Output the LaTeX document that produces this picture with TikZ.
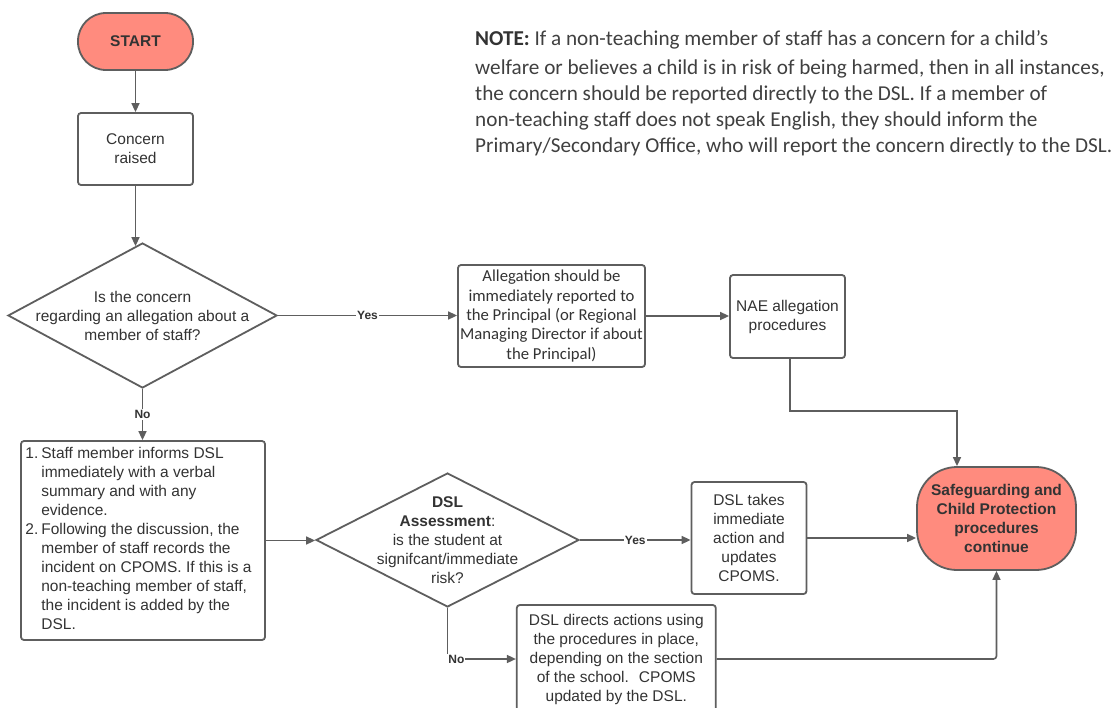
\documentclass[tikz,border=0pt]{standalone}
\usepackage{fontspec}
\setmainfont{Liberation Sans}
\newfontfamily\notefont{Carlito}
\usetikzlibrary{arrows.meta,shapes.geometric}
\definecolor{linec}{HTML}{5E5E5E}
\definecolor{txt}{HTML}{333333}
\definecolor{notec}{HTML}{404040}
\definecolor{salmon}{HTML}{FF8B7E}
\begin{document}
\begin{tikzpicture}[x=1pt,y=-1pt,
  line/.style={draw=linec, line width=1.6pt},
  arr/.style={line, -{Triangle[length=9pt,width=8pt]}},
  box/.style={draw=linec, line width=1.8pt, rounded corners=3pt, fill=white, inner sep=3pt, align=center, text=txt, font=\fontsize{15.5}{19}\selectfont},
  term/.style={box, fill=salmon, font=\bfseries\fontsize{15.5}{19}\selectfont},
  dia/.style={diamond, draw=linec, line width=1.8pt, fill=white, inner sep=0pt},
  diatext/.style={text=txt, align=center, inner sep=0pt, font=\fontsize{15.5}{19}\selectfont},
  lbl/.style={fill=white, inner sep=1pt, text=txt, font=\bfseries\fontsize{12}{14}\selectfont},
]
\fill[white] (0,0) rectangle (1111,707);
\useasboundingbox (0,0) rectangle (1111,707);

\node[anchor=north west, align=left, text=notec, inner sep=0pt,
      font=\notefont\fontsize{21.2}{26}\selectfont] (note) at (475,30)
  {{\bfseries\color{txt}NOTE:} If a non-teaching member of staff has a concern for a child’s\\[3pt]
   welfare or believes a child is in risk of being harmed, then in all instances,\\
   the concern should be reported directly to the DSL. If a member of\\
   non-teaching staff does not speak English, they should inform the\\
   Primary/Secondary Office, who will report the concern directly to the DSL.};

\node[term, minimum width=115pt, minimum height=57pt, rounded corners=28pt] (start) at (135.5,41.5) {START};
\node[box, minimum width=115pt, minimum height=72pt] (concern) at (135.5,149) {Concern\\raised};
\node[dia, minimum width=269pt, minimum height=145pt] (d1) at (142.5,315.5) {};
\node[diatext] (d1t) at (d1.center) {Is the concern\\regarding an allegation about a\\member of staff?};
\node[box, minimum width=187pt, minimum height=102pt, inner sep=0pt,
      font=\notefont\fontsize{16.7}{19.3}\selectfont] (alleg) at (551.5,316)
  {Allegation should be\\immediately reported to\\the Principal (or Regional\\Managing Director if about\\the Principal)};
\node[box, minimum width=115pt, minimum height=83pt] (nae) at (787.5,316.5) {NAE allegation\\procedures};
\node[box, minimum width=244pt, minimum height=199pt, inner sep=0pt] (list) at (143,540.5)
  {\begin{tabular}{@{}l@{\hspace{3pt}}l@{\hspace{9pt}}}
   1. & Staff member informs DSL\\
      & immediately with a verbal\\
      & summary and with any\\
      & evidence.\\
   2. & Following the discussion, the\\
      & member of staff records the\\
      & incident on CPOMS. If this is a\\
      & non-teaching member of staff,\\
      & the incident is added by the\\
      & DSL.
   \end{tabular}};
\node[dia, minimum width=263pt, minimum height=134pt] (d2) at (447.5,540) {};
\node[diatext] (d2t) at (d2.center) {\textbf{DSL}\\\textbf{Assessment}:\\is the student at\\signifcant/immediate\\risk?};
\node[box, minimum width=115pt, minimum height=112pt] (take) at (749,538) {DSL takes\\immediate\\action and\\updates\\CPOMS.};
\node[term, minimum width=159pt, minimum height=103pt, rounded corners=40pt] (safe) at (996.5,518.5)
  {Safeguarding and\\Child Protection\\procedures\\continue};
\node[box, minimum width=199pt, minimum height=108pt] (directs) at (616.3,659)
  {DSL directs actions using\\the procedures in place,\\depending on the section\\of the school.~ CPOMS\\updated by the DSL.};

\draw[arr] (start) -- (concern);
\draw[arr, shorten >=-4pt] (concern.south) -- (concern.south |- d1.north);
\draw[arr] (d1.east) -- node[lbl]{Yes} (d1.east -| alleg.west);
\draw[arr] (alleg.east) -- (alleg.east -| nae.west);
\draw[arr] ([xshift=2.5pt]nae.south) -- ++(0,52) -| ([xshift=-39.5pt]safe.north);
\draw[arr] (d1.south) -- node[lbl]{No} (d1.south |- list.north);
\draw[arr] (list.east) -- (list.east -| d2.west);
\draw[arr] (d2.east) -- node[lbl]{Yes} (d2.east -| take.west);
\draw[arr] (take.east) -- (take.east -| safe.west);
\draw[arr] (d2.south) |- node[lbl, pos=0.565]{No} (directs.west);
\draw[arr, rounded corners=3pt] (directs.east) -| (safe.south);
\end{tikzpicture}
\end{document}
